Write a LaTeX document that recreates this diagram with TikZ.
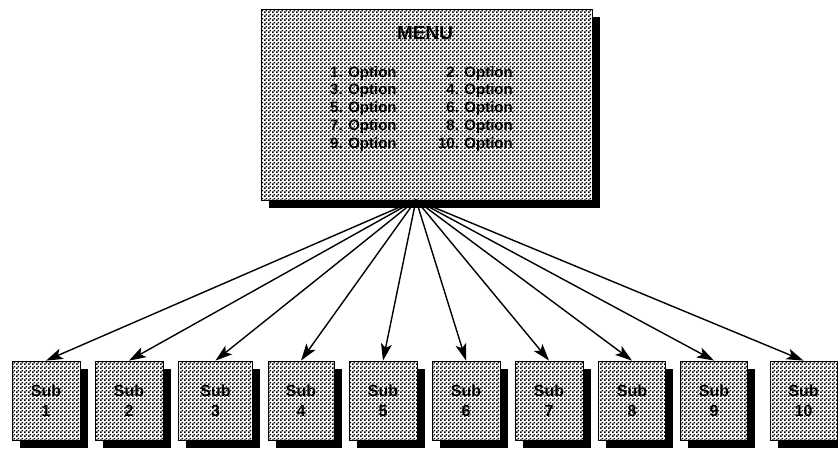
\documentclass[tikz,border=0pt]{standalone}
\usepackage{fontspec}
\setmainfont{Liberation Sans}
\usetikzlibrary{arrows.meta,shadows,patterns.meta}

\tikzdeclarepattern{
  name=halftone,
  type=uncolored,
  bounding box={(0pt,0pt) and (4pt,4pt)},
  tile size={(4pt,4pt)},
  code={
    \fill (0pt,0pt) rectangle (1.95pt,1.95pt);
    \fill (2pt,2pt) rectangle (3.95pt,3.95pt);
  }
}

\tikzset{
  boxshadow/.style={drop shadow={shadow xshift=7.5pt, shadow yshift=-8pt, fill=black, opacity=1}},
  halfbox/.style={draw=black, line width=0.8pt, preaction={fill=white}, pattern=halftone, pattern color=black},
  menubox/.style={boxshadow, halfbox, minimum width=331pt, minimum height=191pt, inner sep=0pt},
  subbox/.style={boxshadow, halfbox, minimum width=68pt, minimum height=79pt, inner sep=0pt, align=center,
    font=\fontsize{16}{20}\selectfont\bfseries},
  titlelabel/.style={font=\fontsize{19}{20}\selectfont\bfseries, inner sep=0pt},
  optlabel/.style={font=\fontsize{15}{18}\selectfont\bfseries, inner sep=0pt},
  conn/.style={line width=1.4pt, -{Stealth[length=17pt,width=11pt,inset=4pt]}},
}

\begin{document}
\begin{tikzpicture}[x=1pt,y=-1pt]
\useasboundingbox (0,0) rectangle (838,448);
\fill[white] (0,0) rectangle (838,448);

% menu
\node[menubox] (menu) at (426.5,104.5) {};
\node[titlelabel, anchor=base] (title) at (425,39) {MENU};
\node[optlabel, anchor=base west] (o1) at (330,77.1) {1. Option};
\node[optlabel, anchor=base east] (o2) at (513,77.1) {2. Option};
\node[optlabel, anchor=base west] (o3) at (330,94.85) {3. Option};
\node[optlabel, anchor=base east] (o4) at (513,94.85) {4. Option};
\node[optlabel, anchor=base west] (o5) at (330,112.6) {5. Option};
\node[optlabel, anchor=base east] (o6) at (513,112.6) {6. Option};
\node[optlabel, anchor=base west] (o7) at (330,130.35) {7. Option};
\node[optlabel, anchor=base east] (o8) at (513,130.35) {8. Option};
\node[optlabel, anchor=base west] (o9) at (330,148.1) {9. Option};
\node[optlabel, anchor=base east] (o10) at (513,148.1) {10. Option};

% sub boxes
\node[subbox] (s1) at (46,400.5) {Sub\\1};
\node[subbox] (s2) at (129,400.5) {Sub\\2};
\node[subbox, minimum width=74pt] (s3) at (215.5,400.5) {Sub\\3};
\node[subbox, minimum width=66pt] (s4) at (301,400.5) {Sub\\4};
\node[subbox] (s5) at (383,400.5) {Sub\\5};
\node[subbox] (s6) at (466,400.5) {Sub\\6};
\node[subbox] (s7) at (549,400.5) {Sub\\7};
\node[subbox, minimum width=67pt] (s8) at (632,400.5) {Sub\\8};
\node[subbox, minimum width=67pt] (s9) at (714,400.5) {Sub\\9};
\node[subbox, minimum width=67pt] (s10) at (803.5,400.5) {Sub\\10};

% connectors
\coordinate (hub) at (416,200);
\foreach \i in {1,...,10} {
  \draw[conn] (hub) -- (s\i.north);
}
\end{tikzpicture}
\end{document}
